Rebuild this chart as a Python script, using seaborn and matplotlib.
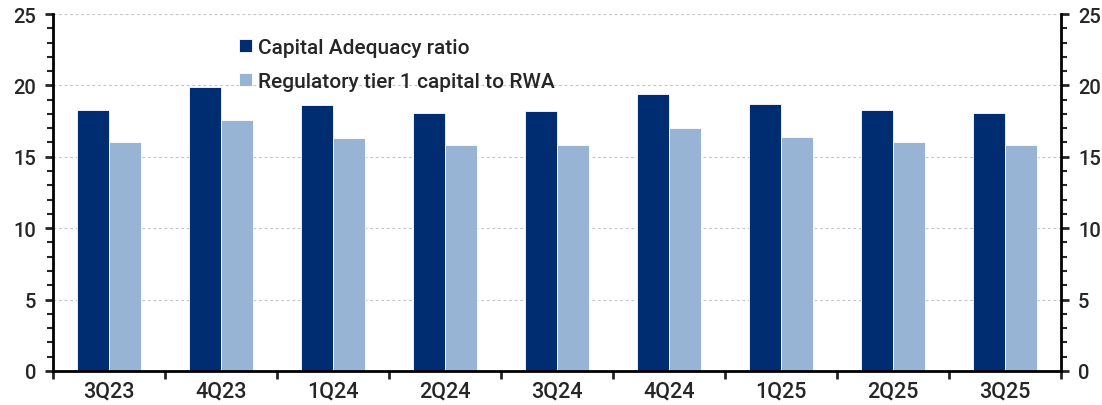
import matplotlib
matplotlib.use('Agg')
import matplotlib.pyplot as plt
import seaborn as sns
import pandas as pd
import numpy as np
from matplotlib.ticker import MultipleLocator, FixedLocator

# chart data
quarters = ['3Q23', '4Q23', '1Q24', '2Q24', '3Q24', '4Q24', '1Q25', '2Q25', '3Q25']
capital_adequacy = [18.3, 19.9, 18.6, 18.1, 18.2, 19.4, 18.7, 18.3, 18.1]
tier1_to_rwa = [16.0, 17.6, 16.3, 15.8, 15.8, 17.0, 16.4, 16.0, 15.8]
series_names = ['Capital Adequacy ratio', 'Regulatory tier 1 capital to RWA']

df = pd.DataFrame({
    'quarter': quarters * 2,
    'value': capital_adequacy + tier1_to_rwa,
    'series': [series_names[0]] * len(quarters) + [series_names[1]] * len(quarters),
})

sns.set_style('white')
plt.rcParams['font.family'] = ['Roboto', 'DejaVu Sans']
plt.rcParams['font.weight'] = 'medium'

fig = plt.figure(figsize=(11.02, 4.06), dpi=100)
ax = fig.add_axes([0.048, 0.084, 0.915, 0.879])

palette = ['#002D72', '#98B4D4']
sns.barplot(data=df, x='quarter', y='value', hue='series', order=quarters,
            hue_order=series_names, palette=palette, width=0.57,
            edgecolor='white', linewidth=0.6, saturation=1, ax=ax)

ax.set_ylim(0, 25)
ax.set_xlim(-0.5, len(quarters) - 0.5)
ax.set_xlabel('')
ax.set_ylabel('')

# gridlines
ax.yaxis.set_major_locator(MultipleLocator(5))
ax.yaxis.set_minor_locator(MultipleLocator(1))
ax.grid(axis='y', which='major', color='#c4c4c4', linestyle=(0, (2.5, 2.5)), linewidth=0.8)
ax.set_axisbelow(True)

# spines
for side in ['left', 'right', 'bottom']:
    ax.spines[side].set_visible(True)
    ax.spines[side].set_color('black')
    ax.spines[side].set_linewidth(2)
ax.spines['top'].set_visible(False)

# x ticks: labels at centers, tick marks at category boundaries
ax.xaxis.set_minor_locator(FixedLocator(np.arange(-0.5, len(quarters), 1.0)))
ax.tick_params(axis='x', which='major', length=0, labelsize=15.5, pad=7)
ax.tick_params(axis='x', which='minor', length=6, width=2, direction='out', bottom=True)

ax.tick_params(axis='y', which='major', length=6, width=2, direction='out',
               left=True, right=True, labelleft=True, labelright=True, labelsize=14.5, pad=6)
ax.tick_params(axis='y', which='minor', length=4, width=1.5, direction='out',
               left=True, right=True)

leg = ax.legend(loc='upper left', bbox_to_anchor=(0.166, 0.985), frameon=False,
                fontsize=15, handlelength=0.6, handleheight=0.6, handletextpad=0.3,
                labelspacing=0.7)

fig.savefig('out.png', dpi=100)
